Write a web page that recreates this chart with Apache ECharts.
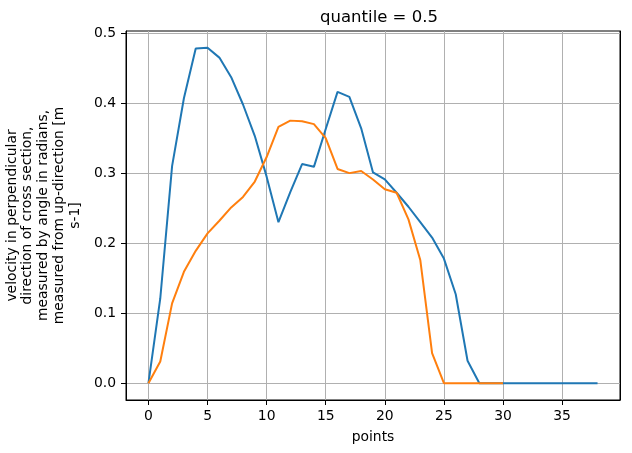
<!DOCTYPE html>
<html><head><meta charset="utf-8">
<script src="https://cdn.jsdelivr.net/npm/echarts@6/dist/echarts.min.js"></script>
<style>html,body{margin:0;padding:0;background:#fff}#c{width:632px;height:453px}</style>
</head><body><div id="c"></div>
<script>
const titleText = 'quantile = 0.5';
const xName = 'points';
const yName = 'velocity in perpendicular\ndirection of cross section,\nmeasured by angle in radians,\nmeasured from up-direction [m\ns-1]';
const points = [0,1,2,3,4,5,6,7,8,9,10,11,12,13,14,15,16,17,18,19,20,21,22,23,24,25,26,27,28,29,30,31,32,33,34,35,36,37,38];
const seriesA = [0, 0.121, 0.310, 0.407, 0.478, 0.479, 0.465, 0.437, 0.398, 0.353, 0.295, 0.230, 0.273, 0.313, 0.309, 0.363, 0.416, 0.409, 0.364, 0.301, 0.291, 0.272, 0.252, 0.230, 0.208, 0.178, 0.127, 0.032, 0, 0, 0, 0, 0, 0, 0, 0, 0, 0, 0];
const seriesB = [0, 0.031, 0.114, 0.159, 0.189, 0.214, 0.232, 0.251, 0.266, 0.288, 0.323, 0.366, 0.375, 0.374, 0.370, 0.350, 0.306, 0.300, 0.303, 0.291, 0.277, 0.272, 0.234, 0.176, 0.043, 0, 0, 0, 0, 0, 0];
const xTicks = [0, 5, 10, 15, 20, 25, 30, 35];
const yTicks = [0, 0.1, 0.2, 0.3, 0.4, 0.5];

const font = 'DejaVu Sans';
const chart = echarts.init(document.getElementById('c'), null, {renderer: 'canvas'});
chart.setOption({
  animation: false,
  backgroundColor: '#fff',
  title: {text: titleText, left: 374, top: 4, textAlign: 'center',
    textStyle: {fontFamily: font, fontSize: 16.5, fontWeight: 'normal', color: '#000'}},
  grid: {left: 126, right: 12, top: 31, bottom: 53, show: true, borderColor: '#000', borderWidth: 1,
    containLabel: false, outerBoundsMode: 'none'},
  xAxis: [{
    type: 'value', min: -1.9, max: 39.9,
    name: xName, nameLocation: 'middle', nameGap: 30,
    nameTextStyle: {fontFamily: font, fontSize: 13.9, color: '#000'},
    axisLine: {show: true, onZero: false, lineStyle: {color: '#000', width: 1}},
    axisTick: {show: true, length: 5, customValues: xTicks, lineStyle: {color: '#000'}},
    axisLabel: {customValues: xTicks, margin: 9, fontFamily: font, fontSize: 13.9, color: '#000'},
    splitLine: {show: true, lineStyle: {color: '#b0b0b0', width: 1}}
  }],
  yAxis: [{
    type: 'value', min: -0.024, max: 0.503,
    name: yName, nameLocation: 'middle', nameGap: 37, nameRotate: 90,
    nameTextStyle: {fontFamily: font, fontSize: 13.9, color: '#000', lineHeight: 15.8, align: 'center'},
    axisLine: {show: true, onZero: false, lineStyle: {color: '#000', width: 1}},
    axisTick: {show: true, length: 5, customValues: yTicks, lineStyle: {color: '#000'}},
    axisLabel: {customValues: yTicks, margin: 10, fontFamily: font, fontSize: 13.9, color: '#000',
      formatter: v => v.toFixed(1)},
    splitLine: {show: true, lineStyle: {color: '#b0b0b0', width: 1}}
  }, {
    type: 'value', min: -0.024, max: 0.503, position: 'right',
    axisLine: {show: true, onZero: false, lineStyle: {color: '#000', width: 1}},
    axisTick: {show: false}, axisLabel: {show: false}, splitLine: {show: false}
  }],
  series: [
    {type: 'line', data: seriesA.map((v, i) => [points[i], v]), showSymbol: false, symbol: 'none',
      lineStyle: {color: '#1f77b4', width: 2}, itemStyle: {color: '#1f77b4'}},
    {type: 'line', data: seriesB.map((v, i) => [points[i], v]), showSymbol: false, symbol: 'none',
      lineStyle: {color: '#ff7f0e', width: 2}, itemStyle: {color: '#ff7f0e'}}
  ]
});
</script></body></html>
